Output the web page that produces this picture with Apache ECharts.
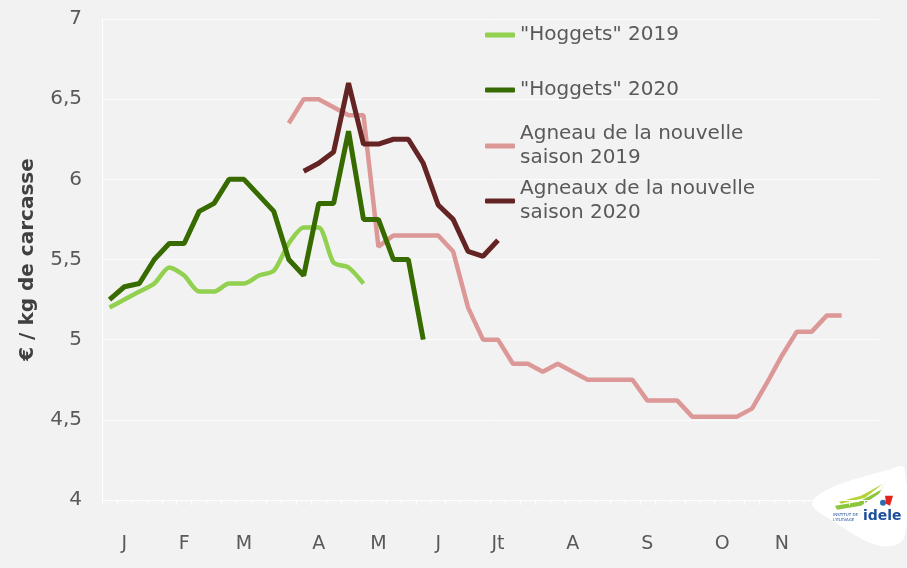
<!DOCTYPE html>
<html>
<head>
<meta charset="utf-8">
<script src="https://cdn.jsdelivr.net/npm/echarts@6/dist/echarts.min.js"></script>
<style>
    html, body { margin: 0; padding: 0; background: #f2f2f2; }
    #chart { width: 907px; height: 568px; }
</style>
</head>
<body>
<div id="chart"></div>
<script>
// semaines 1..52, lettres des mois posees sur certaines semaines
var weeks = [];
for (var w = 1; w <= 52; w++) weeks.push("S" + w);
var monthLabels = ["J", "F", "M", "A", "M", "J", "Jt", "A", "S", "O", "N"];
var monthWeekIdx = [1, 5, 9, 14, 18, 22, 26, 31, 36, 41, 45];

// prix €/kg carcasse (premiere semaine de chaque serie en commentaire)
var hoggets2019 = [5.2, 5.25, 5.3, 5.35, 5.45, 5.4, 5.3, 5.3, 5.35, 5.35, 5.4, 5.43, 5.6, 5.7, 5.7, 5.48, 5.45, 5.35]; // sem 0
var hoggets2020 = [5.25, 5.33, 5.35, 5.5, 5.6, 5.6, 5.8, 5.85, 6.0, 6.0, 5.9, 5.8, 5.5, 5.4, 5.85, 5.85, 6.3, 5.75, 5.75, 5.5, 5.5, 5.0]; // sem 0
var agneau2019 = [6.35, 6.5, 6.5, 6.45, 6.4, 6.4, 5.58, 5.65, 5.65, 5.65, 5.65, 5.55, 5.2, 5.0, 5.0, 4.85, 4.85, 4.8, 4.85, 4.8,
    4.75, 4.75, 4.75, 4.75, 4.62, 4.62, 4.62, 4.52, 4.52, 4.52, 4.52, 4.57, 4.73, 4.9, 5.05, 5.05, 5.15, 5.15]; // sem 12
var agneaux2020 = [6.05, 6.1, 6.17, 6.6, 6.22, 6.22, 6.25, 6.25, 6.1, 5.84, 5.75, 5.55, 5.52, 5.62]; // sem 13

var yTicks = [4, 4.5, 5, 5.5, 6, 6.5, 7];

function place(values, start) {
    var out = [];
    for (var i = 0; i < weeks.length; i++) {
        var v = values[i - start];
        out.push(v === undefined ? null : v);
    }
    return out;
}

var names = ['"Hoggets" 2019', '"Hoggets" 2020', 'Agneau de la nouvelle saison 2019', 'Agneaux de la nouvelle saison 2020'];
var colors = ["#92d050", "#376b00", "#dc9896", "#652424"];
var font = "DejaVu Sans";

var myChart = echarts.init(document.getElementById("chart"));

function legendAt(name, top, twoLines) {
    return {
        data: [name],
        left: 485,
        top: top,
        padding: 0,
        icon: "roundRect",
        itemWidth: 30,
        itemHeight: 5,
        itemGap: 0,
        selectedMode: false,
        formatter: function (n) {
            if (!twoLines) return n;
            var cut = n.lastIndexOf(" saison");
            return n.substring(0, cut) + "\n" + n.substring(cut + 1);
        },
        textStyle: {
            fontFamily: font,
            fontSize: 20,
            color: "#595959",
            lineHeight: 24,
            padding: twoLines ? [24, 0, 0, 0] : 0
        }
    };
}

var option = {
    backgroundColor: "#f2f2f2",
    animation: false,
    grid: { left: 102, right: 28, top: 19, bottom: 68 },
    legend: [
        legendAt(names[0], 23, false),
        legendAt(names[1], 78, false),
        legendAt(names[2], 110, true),
        legendAt(names[3], 165, true)
    ],
    xAxis: {
        type: "category",
        data: weeks,
        boundaryGap: true,
        axisLine: { lineStyle: { color: "#ffffff", width: 1 } },
        axisTick: { show: true, interval: 0, length: 5, inside: false, lineStyle: { color: "#ffffff" } },
        axisLabel: {
            interval: 0,
            margin: 35,
            fontFamily: font,
            fontSize: 19,
            color: "#595959",
            formatter: function (v, idx) {
                var k = monthWeekIdx.indexOf(idx);
                return k >= 0 ? monthLabels[k] : "";
            }
        },
        splitLine: { show: false }
    },
    yAxis: {
        type: "value",
        min: yTicks[0],
        max: yTicks[yTicks.length - 1],
        interval: 0.5,
        name: "€ / kg de carcasse",
        nameLocation: "middle",
        nameRotate: 90,
        nameGap: 64,
        nameTextStyle: { fontFamily: font, fontSize: 20, fontWeight: "bold", color: "#404040" },
        axisLine: { show: true, lineStyle: { color: "#ffffff" } },
        axisTick: { show: false },
        axisLabel: {
            margin: 20,
            fontFamily: font,
            fontSize: 20,
            color: "#595959",
            formatter: function (v) { return String(v).replace(".", ","); }
        },
        splitLine: { lineStyle: { color: "rgba(255,255,255,0.8)", width: 1 } }
    },
    series: [{
        name: names[0],
        type: "line",
        data: place(hoggets2019, 0),
        smooth: 0.25,
        symbol: "none",
        lineStyle: { color: colors[0], width: 4.5 },
        itemStyle: { color: colors[0] },
        z: 2
    }, {
        name: names[1],
        type: "line",
        data: place(hoggets2020, 0),
        symbol: "none",
        lineStyle: { color: colors[1], width: 5 },
        itemStyle: { color: colors[1] },
        z: 4
    }, {
        name: names[2],
        type: "line",
        data: place(agneau2019, 12),
        symbol: "none",
        lineStyle: { color: colors[2], width: 4.5 },
        itemStyle: { color: colors[2] },
        z: 3
    }, {
        name: names[3],
        type: "line",
        data: place(agneaux2020, 13),
        symbol: "none",
        lineStyle: { color: colors[3], width: 5 },
        itemStyle: { color: colors[3] },
        z: 5
    }],
    // logo idele en bas a droite
    graphic: [{
        type: "group",
        left: 812,
        top: 466,
        z: 100,
        children: [{
            type: "polygon",
            shape: { points: [[3, 38], [22, 22], [80, 4], [95, 2], [95, 72], [70, 80], [22, 54]], smooth: 0.35 },
            style: { fill: "#ffffff" }
        }, {
            type: "polygon",
            shape: { points: [[26, 40], [50, 36], [72, 24], [78, 14], [70, 28], [52, 40], [28, 44]] },
            style: { fill: "#8cc63f" }
        }, {
            type: "polygon",
            shape: { points: [[30, 36], [52, 30], [74, 18], [56, 32], [32, 38]] },
            style: { fill: "#b5d334" }
        }, {
            type: "text",
            left: 24, top: 47,
            style: { text: "INSTITUT DE\nL'ELEVAGE", fontSize: 4, lineHeight: 5, fill: "#1d4f9c", fontFamily: font }
        }, {
            type: "text",
            left: 54, top: 44,
            style: { text: "idele", fontSize: 14, fontWeight: "bold", fill: "#1d4f9c", fontFamily: font }
        }, {
            type: "circle",
            shape: { cx: 74, cy: 37, r: 3 },
            style: { fill: "#2b6cb0" }
        }, {
            type: "polygon",
            shape: { points: [[76, 30], [84, 30], [81, 40], [77, 38]] },
            style: { fill: "#e2231a" }
        }]
    }]
};
myChart.setOption(option);
</script>
</body>
</html>
